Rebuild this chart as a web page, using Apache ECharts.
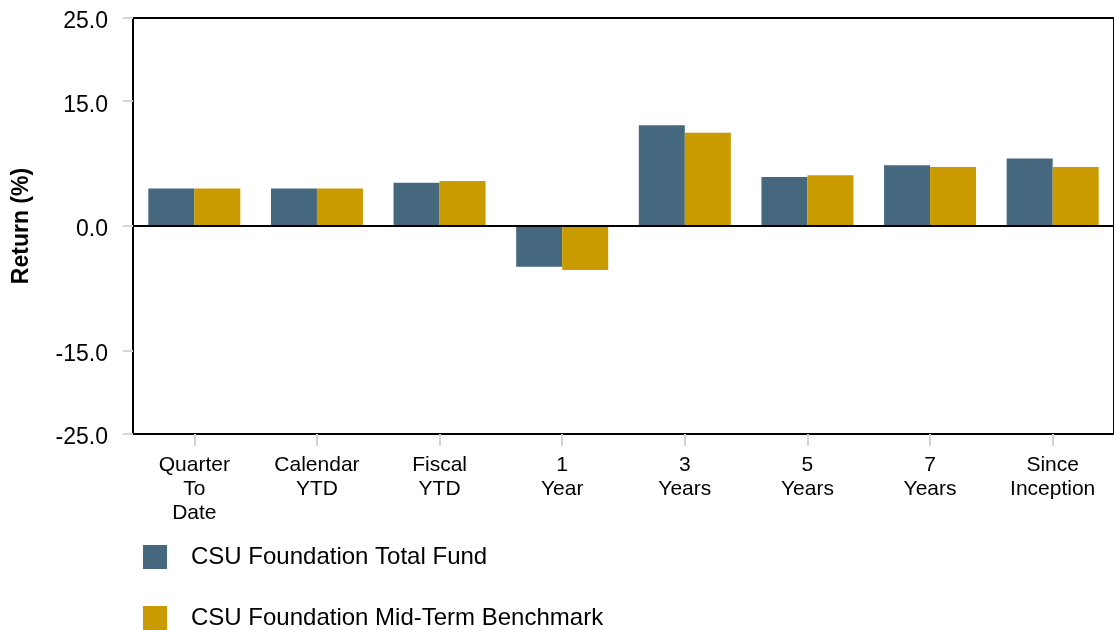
<!DOCTYPE html>
<html>
<head>
<meta charset="utf-8">
<script src="https://cdn.jsdelivr.net/npm/echarts@6/dist/echarts.min.js"></script>
<style>
  html, body { margin: 0; padding: 0; background: #fff; }
  #main { width: 1114px; height: 630px; }
</style>
</head>
<body>
<div id="main"></div>
<script>
var categories = ['Quarter\nTo\nDate', 'Calendar\nYTD', 'Fiscal\nYTD', '1\nYear', '3\nYears', '5\nYears', '7\nYears', 'Since\nInception'];
var totalFund = [4.5, 4.5, 5.2, -4.9, 12.1, 5.9, 7.3, 8.1];
var benchmark = [4.5, 4.5, 5.4, -5.3, 11.2, 6.1, 7.1, 7.1];
var yTicks = [-25, -15, 0, 15, 25];

var myChart = echarts.init(document.getElementById('main'));

var font = 'Liberation Sans, Arial, sans-serif';

var option = {
  animation: false,
  textStyle: { fontFamily: font },
  grid: {
    left: 133, top: 18, bottom: 196, right: -9,
    show: true, borderColor: '#000', borderWidth: 2, backgroundColor: '#fff'
  },
  legend: {
    orient: 'vertical',
    left: 143, top: 545,
    padding: 0,
    itemWidth: 24, itemHeight: 24, itemGap: 37,
    icon: 'rect',
    textStyle: { fontSize: 24, color: '#000', fontFamily: font, padding: [2, 0, 0, 19] },
    data: ['CSU Foundation Total Fund', 'CSU Foundation Mid-Term Benchmark']
  },
  xAxis: {
    type: 'category',
    data: categories,
    axisLine: { show: false, onZero: false },
    axisTick: { show: true, alignWithLabel: true, length: 12, lineStyle: { color: '#d4d4d4', width: 2 } },
    axisLabel: { color: '#000', fontSize: 21, lineHeight: 24, margin: 19, interval: 0, fontFamily: font }
  },
  yAxis: {
    type: 'value',
    min: -25, max: 25,
    name: 'Return (%)',
    nameLocation: 'middle',
    nameGap: 100,
    nameTextStyle: { fontSize: 23, fontWeight: 'bold', color: '#000', fontFamily: font },
    axisLine: { show: false },
    splitLine: { show: false },
    axisTick: { show: true, length: 10, customValues: yTicks, lineStyle: { color: '#d4d4d4', width: 2 } },
    axisLabel: {
      customValues: yTicks,
      color: '#000', fontSize: 23, margin: 25, fontFamily: font,
      verticalAlign: 'top', lineHeight: 8,
      formatter: function (v) { return v.toFixed(1); }
    }
  },
  series: [
    {
      name: 'CSU Foundation Total Fund',
      type: 'bar',
      data: totalFund,
      barWidth: 46,
      barGap: '0%',
      itemStyle: { color: '#45687F' },
      markLine: {
        silent: true,
        symbol: ['none', 'none'],
        label: { show: false },
        lineStyle: { color: '#000', width: 2, type: 'solid' },
        data: [{ yAxis: 0 }]
      }
    },
    {
      name: 'CSU Foundation Mid-Term Benchmark',
      type: 'bar',
      data: benchmark,
      barWidth: 46,
      barGap: '0%',
      itemStyle: { color: '#C99B00' }
    }
  ]
};

myChart.setOption(option);
</script>
</body>
</html>
